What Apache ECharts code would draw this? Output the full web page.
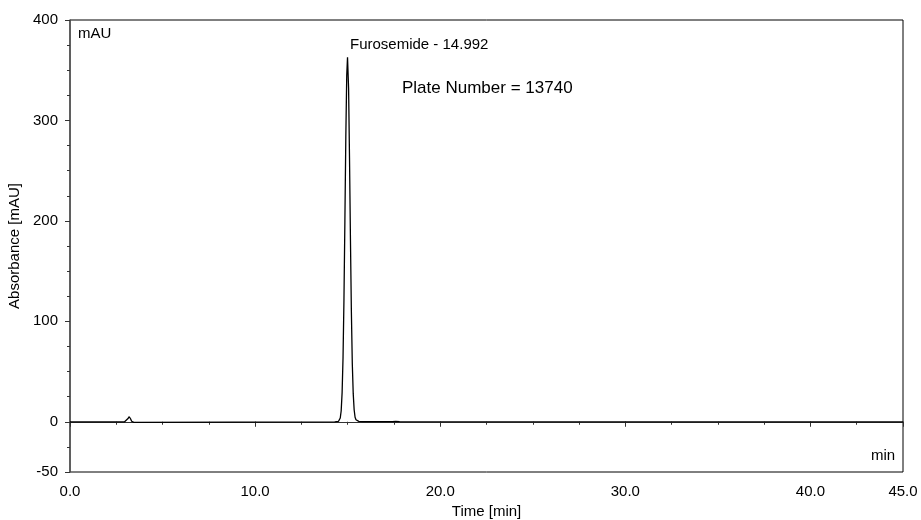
<!DOCTYPE html>
<html>
<head>
<meta charset="utf-8">
<script src="https://cdn.jsdelivr.net/npm/echarts@6/dist/echarts.min.js"></script>
<style>
html,body{margin:0;padding:0;background:#fff;}
#chart{width:921px;height:520px;}
</style>
</head>
<body>
<div id="chart"></div>
<script>
// Retention time (min) and absorbance (mAU)
const timeMin = [0, 2.95, 3.05, 3.12, 3.2, 3.27, 3.33, 3.38, 3.45, 3.55,
  14.3, 14.5, 14.55, 14.6, 14.65, 14.7, 14.75, 14.8, 14.85, 14.9, 14.95, 14.992,
  15.05, 15.1, 15.15, 15.2, 15.25, 15.3, 15.35, 15.4, 15.45, 15.5, 15.6, 15.8,
  17.4, 17.6, 17.8, 45];
const absorbance = [0, 0, 1, 3, 5, 3, 0.5, -1, -0.6, 0,
  0, 0.3, 1.1, 3.8, 11, 29, 64, 122, 200, 283, 345, 363,
  332, 262, 182, 110, 58, 28, 12, 4.5, 2, 1, 0.4, 0.1,
  0.1, 0.4, 0.1, 0];

const xMajorTicks = [0, 10, 20, 30, 40, 45];
const xMinorTicks = [0, 2.5, 5, 7.5, 10, 12.5, 15, 17.5, 20, 22.5, 25, 27.5, 30, 32.5, 35, 37.5, 40, 42.5, 45];
const yMajorTicks = [-50, 0, 100, 200, 300, 400];
const yMinorTicks = [-50, -25, 0, 25, 50, 75, 100, 125, 150, 175, 200, 225, 250, 275, 300, 325, 350, 375, 400];

const peakLabel = 'Furosemide - 14.992';
const plateLabel = 'Plate Number = 13740';

const FONT = '"Liberation Sans", Arial, sans-serif';
const chart = echarts.init(document.getElementById('chart'), null, {renderer: 'canvas'});

const seriesData = timeMin.map((t, i) => [t, absorbance[i]]);

const xBase = {
  type: 'value', min: 0, max: 45, interval: 2.5, position: 'bottom', offset: 5,
  splitLine: {show: false}
};
const yBase = {
  type: 'value', min: -50, max: 400, interval: 25, position: 'left', offset: 3,
  splitLine: {show: false}
};

chart.setOption({
  animation: false,
  backgroundColor: '#fff',
  grid: {left: 70, right: 18, top: 20, bottom: 48, containLabel: false, outerBoundsMode: 'none',
    show: true, borderColor: '#000', borderWidth: 1, backgroundColor: 'transparent'},
  xAxis: [
    Object.assign({}, xBase, {
      name: 'Time [min]', nameLocation: 'middle', nameGap: 23,
      nameTextStyle: {color: '#000', fontFamily: FONT, fontSize: 15, verticalAlign: 'top'},
      axisLine: {show: true, lineStyle: {color: '#333', width: 1}},
      axisTick: {show: true, length: 5, customValues: xMajorTicks, lineStyle: {color: '#333'}},
      axisLabel: {show: true, customValues: xMajorTicks, margin: 7, color: '#000', fontFamily: FONT, fontSize: 15,
        formatter: v => v.toFixed(1)}
    }),
    Object.assign({}, xBase, {
      axisLine: {show: false},
      axisTick: {show: true, length: 3, customValues: xMinorTicks, lineStyle: {color: '#333'}},
      axisLabel: {show: false}
    })
  ],
  yAxis: [
    Object.assign({}, yBase, {
      name: 'Absorbance [mAU]', nameLocation: 'middle', nameGap: 44, nameRotate: 90,
      nameTextStyle: {color: '#000', fontFamily: FONT, fontSize: 15},
      axisLine: {show: true, lineStyle: {color: '#555', width: 1.5}},
      axisTick: {show: true, length: 5, customValues: yMajorTicks, lineStyle: {color: '#333'}},
      axisLabel: {show: true, customValues: yMajorTicks, margin: 9, color: '#000', fontFamily: FONT, fontSize: 15}
    }),
    Object.assign({}, yBase, {
      axisLine: {show: false},
      axisTick: {show: true, length: 3, customValues: yMinorTicks, lineStyle: {color: '#333'}},
      axisLabel: {show: false}
    })
  ],
  series: [{
    type: 'line', xAxisIndex: 0, yAxisIndex: 0, data: seriesData,
    showSymbol: false, symbol: 'none', smooth: false,
    lineStyle: {color: '#000', width: 1.3}
  }],
  graphic: [
    {type: 'text', left: 78, top: 26, style: {text: 'mAU', fill: '#000', font: '15px ' + FONT}},
    {type: 'text', left: 871, top: 448, style: {text: 'min', fill: '#000', font: '15px ' + FONT}},
    {type: 'text', left: 350, top: 37, style: {text: peakLabel, fill: '#000', font: '15px ' + FONT}},
    {type: 'text', left: 402, top: 80, style: {text: plateLabel, fill: '#000', font: '17px ' + FONT}}
  ]
});
</script>
</body>
</html>
